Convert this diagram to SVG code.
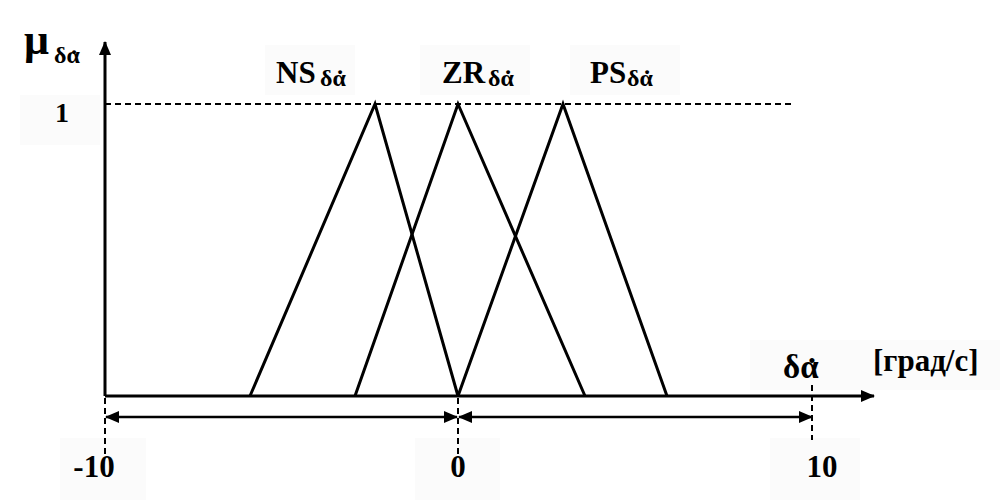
<svg xmlns="http://www.w3.org/2000/svg" width="1000" height="500" viewBox="0 0 1000 500">
<style>
.t{font-family:"Liberation Serif","Times New Roman",serif;font-weight:bold;fill:#000}
.s{font-size:24px}
.d{font-size:26px}
.ln{stroke:#000;stroke-width:3;fill:none}
.mf{stroke:#000;stroke-width:3;fill:none;stroke-linejoin:miter}
.ds{stroke:#000;stroke-width:2;stroke-dasharray:6,4;fill:none}
.bg{fill:#fbfbfb}
</style>
<defs>
<marker id="ah" viewBox="0 0 14 12" refX="13" refY="6" markerWidth="14" markerHeight="12" markerUnits="userSpaceOnUse" orient="auto-start-reverse">
<path d="M0,0 L14,6 L0,12 Z" fill="#000"/>
</marker>
</defs>
<rect width="1000" height="500" fill="#fff"/>
<g id="backgrounds">
<rect class="bg" x="20" y="95" width="80" height="50"/>
<rect class="bg" x="60" y="438" width="86" height="62"/>
<rect class="bg" x="415" y="438" width="85" height="62"/>
<rect class="bg" x="770" y="438" width="90" height="62"/>
<rect class="bg" x="750" y="340" width="250" height="50"/>
<rect class="bg" x="265" y="45" width="90" height="50"/>
<rect class="bg" x="420" y="45" width="110" height="50"/>
<rect class="bg" x="570" y="45" width="110" height="50"/>
</g>
<g id="connectors">
<line class="ds" x1="105" y1="104" x2="795" y2="104"/>
<line class="ds" x1="105" y1="398" x2="105" y2="457"/>
<line class="ds" x1="458" y1="398" x2="458" y2="457"/>
<line class="ds" x1="812" y1="385" x2="812" y2="440"/>
<line class="ln" x1="105" y1="396" x2="105" y2="42" marker-end="url(#ah)"/>
<line class="ln" x1="105" y1="396" x2="874" y2="396" marker-end="url(#ah)"/>
<line class="ln" x1="106" y1="417" x2="457" y2="417" marker-start="url(#ah)" marker-end="url(#ah)" style="stroke-width:2.5"/>
<line class="ln" x1="459" y1="417" x2="812" y2="417" marker-start="url(#ah)" marker-end="url(#ah)" style="stroke-width:2.5"/>
</g>
<g id="NS">
<polyline class="mf" points="250,396 375,104 458,396"/>
<text class="t" x="276" y="83" font-size="31">NS<tspan class="s" x="320" y="86">δα</tspan><tspan class="d" x="340" y="88" text-anchor="middle">˙</tspan></text>
</g>
<g id="ZR">
<polyline class="mf" points="355,396 458,104 585,396"/>
<text class="t" x="442" y="83" font-size="31">ZR<tspan class="s" x="488" y="86">δα</tspan><tspan class="d" x="508" y="88" text-anchor="middle">˙</tspan></text>
</g>
<g id="PS">
<polyline class="mf" points="458,396 563,104 667,396"/>
<text class="t" x="590" y="83" font-size="31">PS<tspan class="s" x="627" y="86">δα</tspan><tspan class="d" x="647" y="88" text-anchor="middle">˙</tspan></text>
</g>
<g id="labels">
<text class="t" x="24" y="54" font-size="44">μ<tspan class="s" x="54" y="63">δα</tspan><tspan class="d" x="74" y="68" text-anchor="middle">˙</tspan></text>
<text class="t" x="62" y="122" font-size="28" text-anchor="middle">1</text>
<text class="t" x="94" y="477" font-size="31" text-anchor="middle">-10</text>
<text class="t" x="458" y="477" font-size="31" text-anchor="middle">0</text>
<text class="t" x="822" y="477" font-size="31" text-anchor="middle">10</text>
<text class="t" x="783" y="378" font-size="33">δα<tspan x="812" y="381" font-size="34" text-anchor="middle">˙</tspan></text>
<text class="t" x="873" y="371" font-size="31">[град/с]</text>
</g>
</svg>
